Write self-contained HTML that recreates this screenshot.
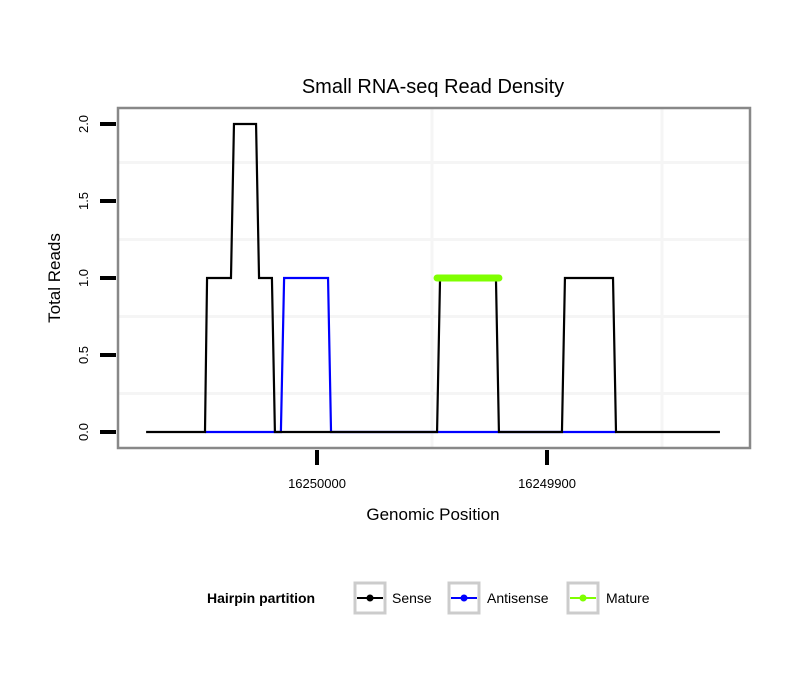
<!DOCTYPE html>
<html><head><meta charset="utf-8"><style>
body{margin:0;background:#fff;}
svg text{font-family:"Liberation Sans",sans-serif;}
</style></head><body>
<svg id="chart" width="810" height="690" xmlns="http://www.w3.org/2000/svg">
<rect width="810" height="690" fill="#fff"/>
<text x="433" y="93" font-size="20" text-anchor="middle">Small RNA-seq Read Density</text>
<g id="grid"></g>
<g id="series"></g>
<rect x="118" y="108" width="632" height="340" fill="none" stroke="#888" stroke-width="2.5"/>
<g id="axes"></g>
<text x="433" y="520" font-size="17" text-anchor="middle">Genomic Position</text>
<text transform="translate(60,278) rotate(-90)" font-size="17" text-anchor="middle">Total Reads</text>
<g>
<text x="207" y="603" font-size="14" font-weight="bold">Hairpin partition</text>
<g><rect x="355" y="583" width="30" height="30" fill="#fff" stroke="#ccc" stroke-width="3"/><line x1="357" y1="598" x2="383" y2="598" stroke="#000" stroke-width="2"/><circle cx="370" cy="598" r="3.5" fill="#000"/><text x="392" y="603" font-size="14">Sense</text></g>
<g><rect x="449" y="583" width="30" height="30" fill="#fff" stroke="#ccc" stroke-width="3"/><line x1="451" y1="598" x2="477" y2="598" stroke="#00f" stroke-width="2"/><circle cx="464" cy="598" r="3.5" fill="#00f"/><text x="487" y="603" font-size="14">Antisense</text></g>
<g><rect x="568" y="583" width="30" height="30" fill="#fff" stroke="#ccc" stroke-width="3"/><line x1="570" y1="598" x2="596" y2="598" stroke="#7fff00" stroke-width="2"/><circle cx="583" cy="598" r="3.5" fill="#7fff00"/><text x="606" y="603" font-size="14">Mature</text></g>
</g>
</svg>
<script>
const xTicks = [16250000, 16249900];
const yTicks = [0, 0.5, 1, 1.5, 2];
const yTickLabels = ["0.0", "0.5", "1.0", "1.5", "2.0"];
const senseX = [16250074.3,16250048.7,16250047.8,16250037.4,16250036.1,16250026.5,16250025.2,16250019.6,16250018.3,16249947.8,16249946.5,16249922.2,16249920.9,16249893.5,16249892.2,16249871.3,16249870,16249824.8];
const senseY = [0,0,1,1,2,2,1,1,0,0,1,1,0,0,1,1,0,0];
const antiX = [16250048.7,16250018.7,16250015.7,16250014.3,16249995.2,16249993.9,16249870];
const antiY = [0,0,0,1,1,0,0];
const matureX = [16249947.8,16249920.9];
const matureY = [1,1];

const NS="http://www.w3.org/2000/svg";
function xs(p){return 317+(16250000-p)*2.3;}
function ys(v){return 432-v*154;}
function mk(tag,attrs,parent){const e=document.createElementNS(NS,tag);for(const k in attrs)e.setAttribute(k,attrs[k]);parent.appendChild(e);return e;}
const grid=document.getElementById('grid'),axes=document.getElementById('axes'),ser=document.getElementById('series');
// minor/major gridlines
[0.25,0.75,1.25,1.75].forEach(v=>{const l=mk('line',{x1:118,x2:750,y1:ys(v),y2:ys(v),stroke:'#f5f5f5','stroke-width':3},grid);

});
[16249950,16249850].forEach(p=>{const l=mk('line',{x1:xs(p),x2:xs(p),y1:108,y2:448,stroke:'#f5f5f5','stroke-width':3},grid);

});
yTicks.forEach((v,i)=>{const t=mk('line',{x1:100,x2:116,y1:ys(v),y2:ys(v),stroke:'#000','stroke-width':4},axes);


const tx=mk('text',{transform:`translate(88,${ys(v)}) rotate(-90)`,'font-size':13,'text-anchor':'middle'},axes);


tx.textContent=yTickLabels[i];});
xTicks.forEach(p=>{const t=mk('line',{x1:xs(p),x2:xs(p),y1:450,y2:465,stroke:'#000','stroke-width':4},axes);


const tx=mk('text',{x:xs(p),y:488,'font-size':13,'text-anchor':'middle'},axes);


tx.textContent=p;});
function pts(X,Y){return X.map((x,i)=>xs(x)+','+ys(Y[i])).join(' ');}
const a=mk('polyline',{points:pts(antiX,antiY),fill:'none',stroke:'#00f','stroke-width':2.2},ser);


const s=mk('polyline',{points:pts(senseX,senseY),fill:'none',stroke:'#000','stroke-width':2.2},ser);


const m=mk('polyline',{points:pts(matureX,matureY),fill:'none',stroke:'#7fff00','stroke-width':7,'stroke-linecap':'round'},ser);


</script>
</body></html>
